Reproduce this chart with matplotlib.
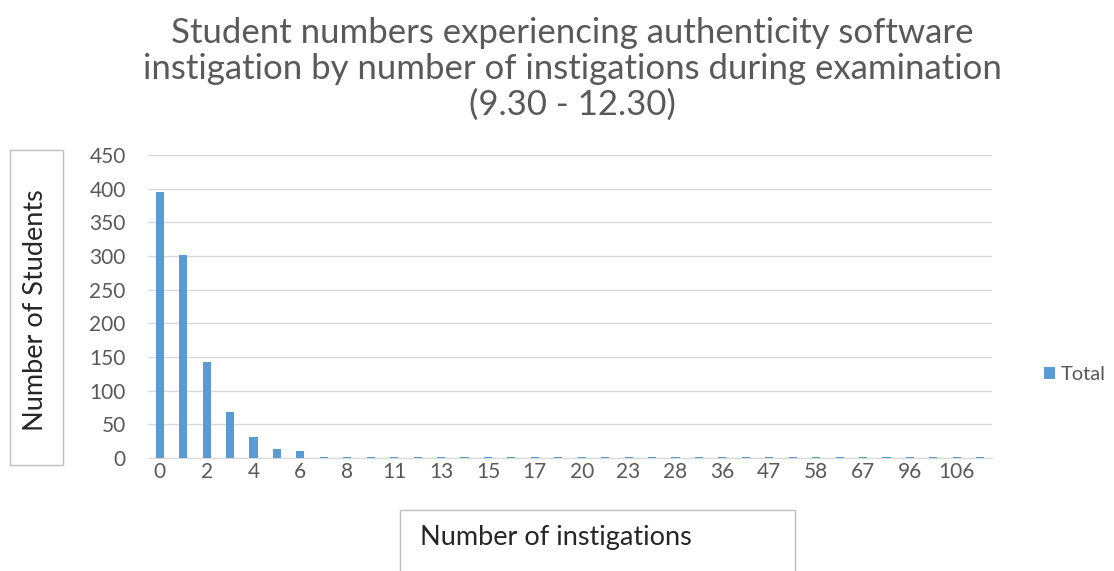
import matplotlib
matplotlib.use("Agg")
import matplotlib.pyplot as plt
from matplotlib.patches import Rectangle

plt.rcParams['font.family'] = ['Lato', 'DejaVu Sans']

# Number of instigations per student (category labels) and student counts
instigations = ["0", "1", "2", "3", "4", "5", "6", "7", "8", "9",
                "11", "12", "13", "14", "15", "16", "17", "19",
                "20", "22", "23", "25", "28", "32", "36", "41",
                "47", "52", "58", "62", "67", "78", "96", "100",
                "106", "120"]
students = [395, 302, 143, 69, 31, 13, 10, 2, 2, 2,
            2, 2, 2, 1, 2, 2, 2, 2,
            2, 2, 2, 1, 2, 2, 2, 2,
            2, 2, 2, 2, 2, 2, 2, 2,
            2, 2]
yticks = [0, 50, 100, 150, 200, 250, 300, 350, 400, 450]

W, H = 1114, 571
fig = plt.figure(figsize=(W / 100, H / 100), dpi=100)
ax = fig.add_axes([148 / W, 1 - 458 / H, 844 / W, 303 / H])

x = list(range(len(instigations)))
bars = ax.bar(x, students, width=0.35, color="#5b9bd5", label="Total", zorder=3)

ax.set_xlim(-0.5, len(instigations) - 0.5)
ax.set_ylim(0, 450)
ax.set_yticks(yticks)
ax.set_yticklabels([str(v) for v in yticks])
ax.set_xticks(x[::2])
ax.set_xticklabels(instigations[::2])
ax.grid(axis="y", color="#d9d9d9", linewidth=1, zorder=0)
for side in ("top", "right", "left"):
    ax.spines[side].set_visible(False)
ax.spines["bottom"].set_color("#d9d9d9")
ax.tick_params(axis="both", length=0, colors="#595959", labelsize=15)
ax.tick_params(axis="y", pad=16)
ax.tick_params(axis="x", pad=3)

fig.text(572 / W, 1 - 69 / H,
         "Student numbers experiencing authenticity software\n"
         "instigation by number of instigations during examination\n"
         "(9.30 - 12.30)",
         ha="center", va="center", fontsize=25, color="#595959",
         linespacing=1.14)

# Axis title boxes
fig.patches.append(Rectangle((10 / W, 1 - 465 / H), 53 / W, 315 / H,
                             transform=fig.transFigure, fill=False,
                             edgecolor="#bfbfbf", linewidth=1))
fig.text(36 / W, 1 - 310 / H, "Number of Students", rotation=90,
         ha="center", va="center", fontsize=19.5, color="#262626")

fig.patches.append(Rectangle((400 / W, -0.05), 395 / W, 0.05 + 61 / H,
                             transform=fig.transFigure, fill=False,
                             edgecolor="#bfbfbf", linewidth=1))
fig.text(420 / W, 1 - 538 / H, "Number of instigations",
         ha="left", va="center", fontsize=19.5, color="#262626")

# Legend
fig.legend(handles=[bars], labels=["Total"], loc="center left",
           bbox_to_anchor=(1044 / W, 1 - 375 / H), frameon=False,
           borderpad=0, borderaxespad=0,
           handlelength=0.55, handleheight=0.55, handletextpad=0.3,
           fontsize=14.5, labelcolor="#595959")

fig.savefig("out.png", dpi=100)
